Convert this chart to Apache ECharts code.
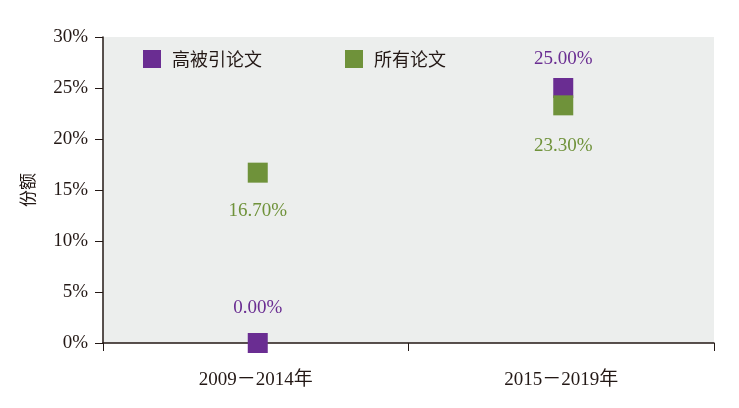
<!DOCTYPE html>
<html><head><meta charset="utf-8">
<script src="https://cdn.jsdelivr.net/npm/echarts@6/dist/echarts.min.js"></script>
<style>html,body{margin:0;padding:0;background:#fff}#c{width:739px;height:408px}</style>
</head><body><div id="c"></div>
<script>
const categories = ['2009－2014年', '2015－2019年'];
const seriesNames = ['高被引论文', '所有论文'];
const highCited = [0.00, 25.00];
const allPapers = [16.70, 23.30];
const yTicks = [0, 5, 10, 15, 20, 25, 30];

const serif = '"Liberation Serif","Times New Roman","Noto Sans CJK SC",serif';
const purple = '#6a2d92';
const green = '#6f923a';
const purpleLabelDist = [15, 9];
const greenLabelDist = [19, 21];
const labelFmt = p => p.value.toFixed(2) + '%';
const chart = echarts.init(document.getElementById('c'));
chart.setOption({
  animation: false,
  grid: { left: 103, right: 25, top: 37, bottom: 65, show: true, backgroundColor: '#eceeed', borderWidth: 0 },
  legend: {
    left: 138, top: 45, icon: 'rect', itemWidth: 18, itemHeight: 18, itemGap: 83,
    textStyle: { fontFamily: '"Noto Sans CJK SC",sans-serif', fontSize: 18, color: '#231815', padding: [0, 0, 0, 6] },
    data: seriesNames
  },
  xAxis: {
    type: 'category', data: categories, boundaryGap: true,
    axisLine: { lineStyle: { color: '#231815', width: 1.5 } },
    axisTick: { show: true, length: 8, lineStyle: { color: '#231815' } },
    axisLabel: { fontFamily: serif, fontSize: 19, color: '#231815', margin: 28 },
    splitLine: { show: false }
  },
  yAxis: {
    type: 'value', min: yTicks[0], max: yTicks[yTicks.length - 1], interval: 5,
    name: '份额', nameLocation: 'middle', nameGap: 67, nameRotate: 90,
    nameTextStyle: { fontFamily: '"Noto Sans CJK SC",sans-serif', fontSize: 17, color: '#231815' },
    axisLine: { show: true, lineStyle: { color: '#231815', width: 1.5 } },
    axisTick: { show: true, length: 8, lineStyle: { color: '#231815' } },
    axisLabel: { fontFamily: serif, fontSize: 19, color: '#231815', margin: 15, formatter: v => v + '%' },
    splitLine: { show: false }
  },
  series: [
    {
      name: seriesNames[0], type: 'scatter', symbol: 'rect', symbolSize: 20, symbolOffset: [2, 0],
      itemStyle: { color: purple, opacity: 1 }, z: 2,
      data: highCited.map((v, i) => ({ value: v, label: { distance: purpleLabelDist[i] } })),
      label: { show: true, position: 'top', fontFamily: serif, fontSize: 19, color: purple, formatter: labelFmt }
    },
    {
      name: seriesNames[1], type: 'scatter', symbol: 'rect', symbolSize: 20, symbolOffset: [2, 0],
      itemStyle: { color: green, opacity: 1 }, z: 3,
      data: allPapers.map((v, i) => ({ value: v, label: { distance: greenLabelDist[i] } })),
      label: { show: true, position: 'bottom', fontFamily: serif, fontSize: 19, color: green, formatter: labelFmt }
    }
  ]
});
</script></body></html>
